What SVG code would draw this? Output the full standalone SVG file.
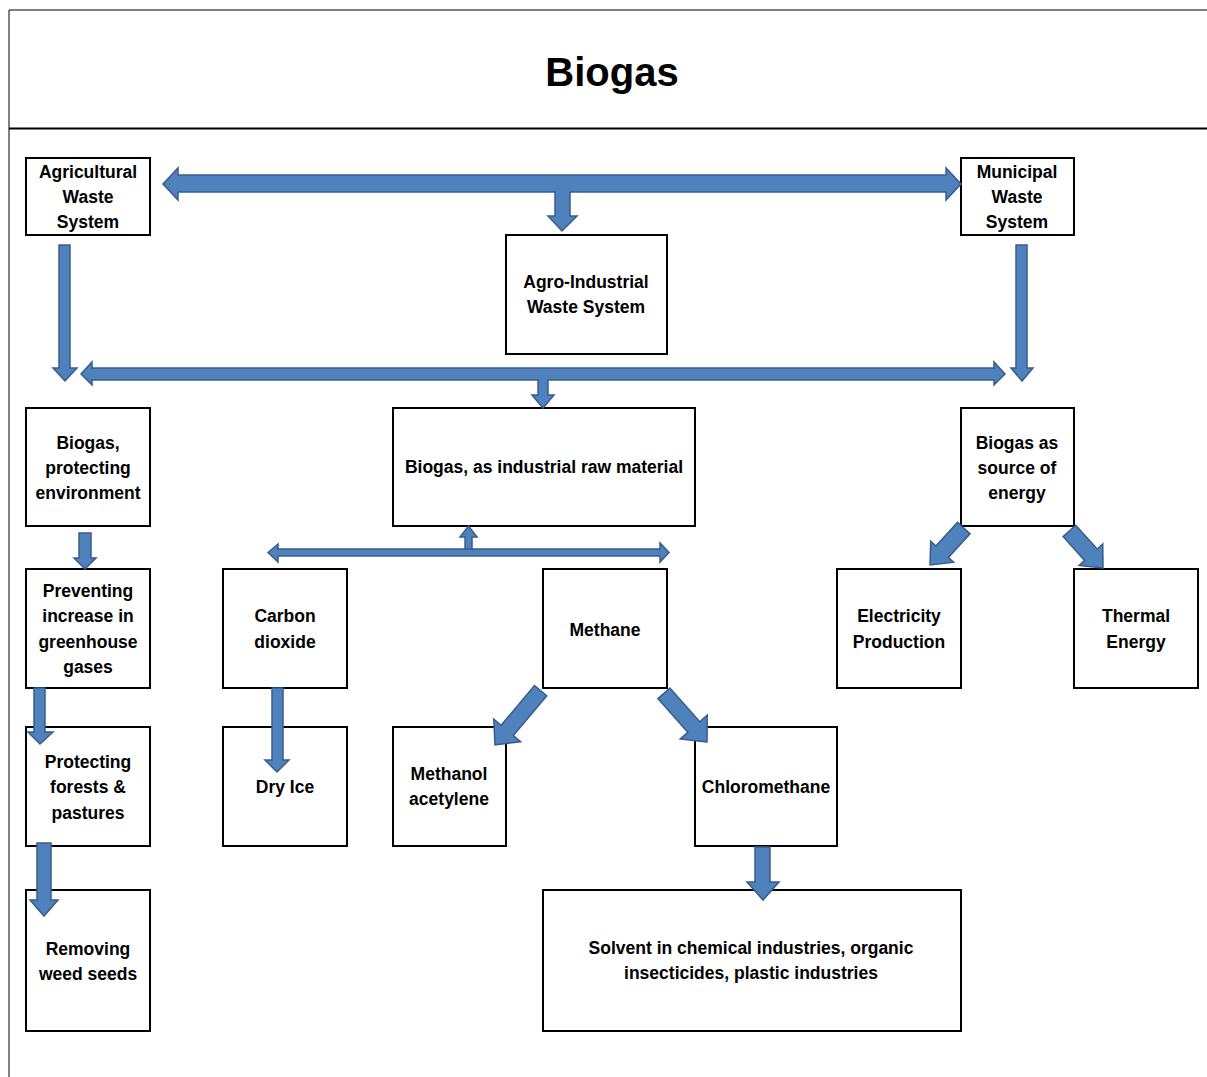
<svg xmlns="http://www.w3.org/2000/svg" width="1207" height="1077" viewBox="0 0 1207 1077">
<style>
.box{fill:#fff;stroke:#000;stroke-width:2}
.t{font-family:"Liberation Sans",Arial,sans-serif;font-weight:bold;font-size:17.5px;fill:#000;text-anchor:middle}
.arr{fill:#4f81bd;stroke:#385d8a;stroke-width:1.5;stroke-linejoin:miter}
</style>
<rect width="1207" height="1077" fill="#fff"/>
<g id="frame">
<line x1="9" y1="10" x2="1207" y2="10" stroke="#000" stroke-width="1"/>
<line x1="9" y1="10" x2="9" y2="1077" stroke="#000" stroke-width="1"/>
<line x1="9" y1="128.5" x2="1207" y2="128.5" stroke="#000" stroke-width="2"/>
<text x="612" y="86" style="font-family:'Liberation Sans',Arial,sans-serif;font-weight:bold;font-size:40px;text-anchor:middle">Biogas</text>
</g>
<g id="agricultural"><rect class="box" x="26" y="158" width="124" height="77"/><text class="t" x="88" y="178">Agricultural</text><text class="t" x="88" y="203">Waste</text><text class="t" x="88" y="228">System</text></g>
<g id="municipal"><rect class="box" x="961" y="158" width="113" height="77"/><text class="t" x="1017" y="178">Municipal</text><text class="t" x="1017" y="203">Waste</text><text class="t" x="1017" y="228">System</text></g>
<g id="agro-industrial"><rect class="box" x="506" y="235" width="161" height="119"/><text class="t" x="586" y="288">Agro-Industrial</text><text class="t" x="586" y="313">Waste System</text></g>
<g id="biogas-environment"><rect class="box" x="26" y="408" width="124" height="118"/><text class="t" x="88" y="449">Biogas,</text><text class="t" x="88" y="474">protecting</text><text class="t" x="88" y="499">environment</text></g>
<g id="biogas-industrial"><rect class="box" x="393" y="408" width="302" height="118"/><text class="t" x="544" y="473">Biogas, as industrial raw material</text></g>
<g id="biogas-energy"><rect class="box" x="961" y="408" width="113" height="118"/><text class="t" x="1017" y="449">Biogas as</text><text class="t" x="1017" y="474">source of</text><text class="t" x="1017" y="499">energy</text></g>
<g id="preventing"><rect class="box" x="26" y="569" width="124" height="119"/><text class="t" x="88" y="597">Preventing</text><text class="t" x="88" y="622">increase in</text><text class="t" x="88" y="648">greenhouse</text><text class="t" x="88" y="673">gases</text></g>
<g id="carbon-dioxide"><rect class="box" x="223" y="569" width="124" height="119"/><text class="t" x="285" y="622">Carbon</text><text class="t" x="285" y="648">dioxide</text></g>
<g id="methane"><rect class="box" x="543" y="569" width="124" height="119"/><text class="t" x="605" y="636">Methane</text></g>
<g id="electricity"><rect class="box" x="837" y="569" width="124" height="119"/><text class="t" x="899" y="622">Electricity</text><text class="t" x="899" y="648">Production</text></g>
<g id="thermal"><rect class="box" x="1074" y="569" width="124" height="119"/><text class="t" x="1136" y="622">Thermal</text><text class="t" x="1136" y="648">Energy</text></g>
<g id="protecting"><rect class="box" x="26" y="727" width="124" height="119"/><text class="t" x="88" y="768">Protecting</text><text class="t" x="88" y="793">forests &amp;</text><text class="t" x="88" y="819">pastures</text></g>
<g id="dry-ice"><rect class="box" x="223" y="727" width="124" height="119"/><text class="t" x="285" y="793">Dry Ice</text></g>
<g id="methanol"><rect class="box" x="393" y="727" width="113" height="119"/><text class="t" x="449" y="780">Methanol</text><text class="t" x="449" y="805">acetylene</text></g>
<g id="chloromethane"><rect class="box" x="695" y="727" width="142" height="119"/><text class="t" x="766" y="793">Chloromethane</text></g>
<g id="removing"><rect class="box" x="26" y="890" width="124" height="141"/><text class="t" x="88" y="955">Removing</text><text class="t" x="88" y="980">weed seeds</text></g>
<g id="solvent"><rect class="box" x="543" y="890" width="418" height="141"/><text class="t" x="751" y="954">Solvent in chemical industries, organic</text><text class="t" x="751" y="979">insecticides, plastic industries</text></g>
<g id="connectors">
<polygon class="arr" points="163,184 178,168 178,175 946,175 946,168 961,184 946,200 946,192 570,192 570,216 577,216 562,231 548,216 555,216 555,192 178,192 178,200"/>
<polygon class="arr" points="59,245 70,245 70,368 77,368 65,381 53,368 59,368"/>
<polygon class="arr" points="1016,245 1027,245 1027,368 1033,368 1022,381 1011,368 1016,368"/>
<polygon class="arr" points="81,374 92,362 92,368 994,368 994,362 1005,374 994,385 994,380 548,380 548,395 554,395 543,408 532,395 538,395 538,380 92,380 92,385"/>
<polygon class="arr" points="268,552.5 278,544 278,549 660,549 660,543 669,552.5 660,562 660,556 278,556 278,562"/>
<polygon class="arr" points="465,549 465,537 460,537 468.5,526 477,537 472,537 472,549"/>
<polygon class="arr" points="79,533 91,533 91,558 96,558 85,569 74,558 79,558"/>
<polygon class="arr" points="34,688 45,688 45,732 53,732 40,744 28,732 34,732"/>
<polygon class="arr" points="37,843 51,843 51,900 58,900 44,916 30,900 37,900"/>
<polygon class="arr" points="272,688 283,688 283,760 289,760 277,772 265,760 272,760"/>
<polygon class="arr" points="755,847 770,847 770,882 779,882 763,900 747,882 755,882"/>
<g transform="translate(495,745) rotate(130)"><polygon class="arr" points="0,0 -19,17.5 -19,8 -71,8 -71,-8 -19,-8 -19,-17.5"/></g>
<g transform="translate(707,742) rotate(48.5)"><polygon class="arr" points="0,0 -20,18 -20,8 -65,8 -65,-8 -20,-8 -20,-18"/></g>
<g transform="translate(930,565) rotate(132.5)"><polygon class="arr" points="0,0 -18,15.5 -18,8.5 -50,8.5 -50,-8.5 -18,-8.5 -18,-15.5"/></g>
<g transform="translate(1103,568) rotate(47.8)"><polygon class="arr" points="0,0 -18,16 -18,8.5 -50,8.5 -50,-8.5 -18,-8.5 -18,-16"/></g>
</g>
</svg>
